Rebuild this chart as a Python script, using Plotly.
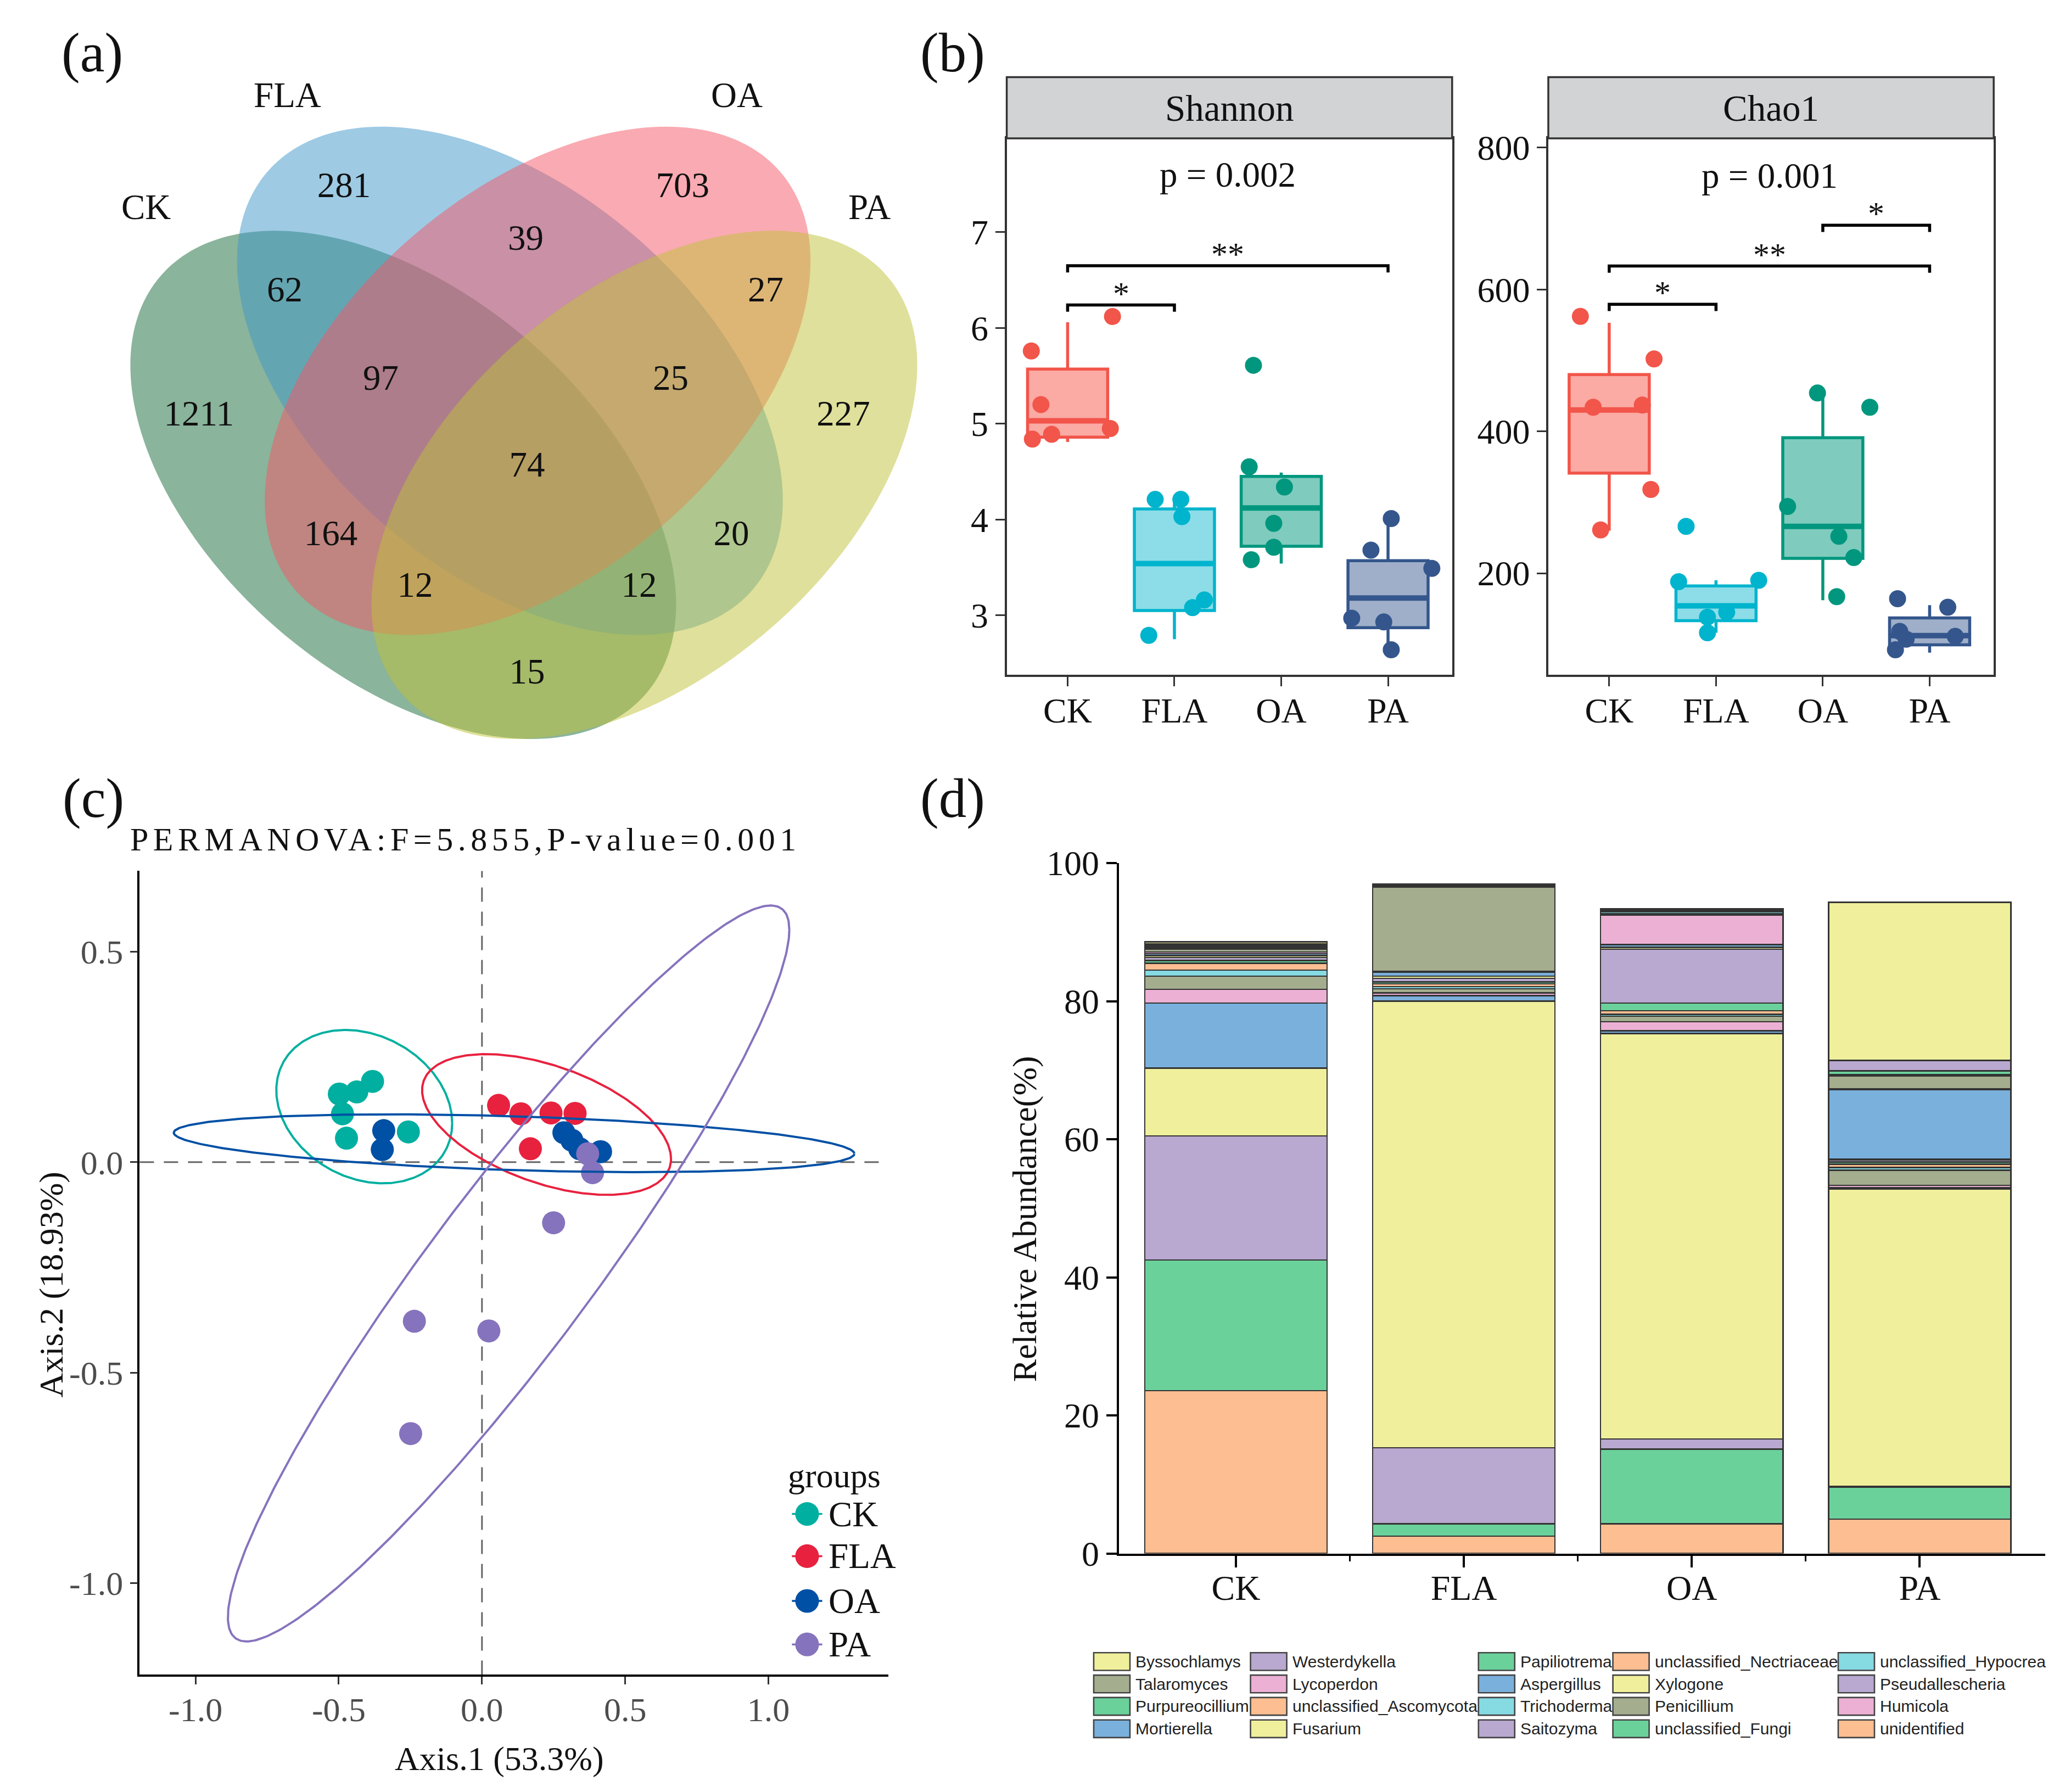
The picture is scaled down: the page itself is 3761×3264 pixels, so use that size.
import numpy as np
import plotly.graph_objects as go

# ---------------- canvas helpers (reference measured in 1567x1360 "display" units) ----------------
W, H = 3761, 3264
DW, DH = 1567.1, 1360.0
S = W / DW
OFF = 8 / S  # page body margin (8px) compensation, in display units


def fs(d):
    return round(d * S)


def xp(d):
    return (d - OFF) / DW


def yp(d):
    return 1 - (d - OFF) / DH


SERIF = "Liberation Serif"
SANS = "Liberation Sans"

groups = ["CK", "FLA", "OA", "PA"]

# ---------------- (a) Venn data ----------------
venn_sets = ["CK", "FLA", "OA", "PA"]
venn_counts = [1211, 281, 703, 227, 62, 39, 27, 97, 25, 74, 164, 20, 12, 12, 15]
venn_colors = ["rgba(21,105,55,0.5)", "rgba(61,149,201,0.5)",
               "rgba(245,85,101,0.5)", "rgba(191,193,55,0.5)"]

# ---------------- (b) alpha diversity ----------------
shannon_vals = [[5.76, 6.12, 5.20, 4.84, 4.89, 4.95],
                [4.21, 4.21, 4.03, 2.79, 3.08, 3.16],
                [5.61, 4.55, 4.34, 3.96, 3.71, 3.58],
                [4.01, 3.68, 3.49, 2.97, 2.93, 2.64]]
shannon_jit = [[-0.34, 0.42, -0.25, -0.33, -0.15, 0.40],
               [-0.18, 0.06, 0.07, -0.24, 0.17, 0.28],
               [-0.26, -0.30, 0.03, -0.07, -0.07, -0.28],
               [0.03, -0.16, 0.41, -0.34, -0.04, 0.03]]
shannon_lo = [4.81, 2.75, 3.54, 2.65]
shannon_q1 = [4.86, 3.05, 3.72, 2.87]
shannon_med = [5.03, 3.54, 4.12, 3.18]
shannon_q3 = [5.57, 4.11, 4.45, 3.57]
shannon_hi = [6.06, 4.21, 4.49, 4.01]
shannon_sig = [(0, 1, 6.24, "*"), (0, 3, 6.65, "**")]
shannon_p = "p = 0.002"

chao_vals = [[562, 502, 434, 437, 318, 261],
             [266, 188, 190, 138, 145, 116],
             [454, 434, 294, 252, 222, 167],
             [164, 152, 118, 111, 92, 107]]
chao_jit = [[-0.27, 0.42, -0.15, 0.31, 0.39, -0.08],
            [-0.28, -0.35, 0.40, -0.08, 0.10, -0.08],
            [-0.05, 0.44, -0.33, 0.15, 0.29, 0.13],
            [-0.30, 0.17, -0.28, 0.24, -0.32, -0.22]]
chao_lo = [260, 116, 162, 88]
chao_q1 = [341, 133, 221, 99]
chao_med = [430, 154, 266, 112]
chao_q3 = [480, 182, 391, 137]
chao_hi = [553, 190, 453, 155]
chao_sig = [(0, 1, 579, "*"), (0, 3, 633, "**"), (2, 3, 690.6, "*")]
chao_p = "p = 0.001"

box_line = ["#F2554A", "#00B4CD", "#00977E", "#34568C"]
box_fill = ["rgba(248,85,74,0.5)", "rgba(0,180,205,0.45)", "rgba(0,151,126,0.5)", "rgba(52,86,140,0.47)"]

# ---------------- (c) PCoA ----------------
pcoa_x = [[-0.498, -0.437, -0.382, -0.487, -0.473, -0.257],
          [0.058, 0.136, 0.241, 0.325, 0.169],
          [-0.343, -0.348, 0.286, 0.314, 0.341, 0.414],
          [0.369, 0.386, 0.250, -0.236, 0.024, -0.249]]
pcoa_y = [[0.162, 0.167, 0.192, 0.115, 0.057, 0.072],
          [0.135, 0.115, 0.117, 0.116, 0.032],
          [0.075, 0.030, 0.070, 0.052, 0.032, 0.025],
          [0.020, -0.025, -0.144, -0.378, -0.401, -0.645]]
# confidence ellipses: centre x, centre y, x radius, y radius, shear
pcoa_ell = [(-0.411, 0.132, 0.307, 0.178, -0.039),
            (0.2255, 0.0895, 0.4345, 0.146, -0.0815),
            (0.112, 0.045, 1.188, 0.064, -0.025),
            (0.093, -0.2645, 0.98, 0.313, 0.8165)]
pcoa_colors = ["#00AFA0", "#E8213F", "#0050A5", "#8673BD"]
pcoa_title = "PERMANOVA:F=5.855,P-value=0.001"
pcoa_xlab = "Axis.1 (53.3%)"
pcoa_ylab = "Axis.2 (18.93%)"

# ---------------- (d) relative abundance (stack order bottom -> top) ----------------
taxa = ["unidentified", "unclassified_Fungi", "Saitozyma", "Fusarium", "Mortierella",
        "Humicola", "Penicillium", "Trichoderma", "unclassified_Ascomycota", "Purpureocillium",
        "Pseudallescheria", "Xylogone", "Aspergillus", "Lycoperdon", "Talaromyces",
        "unclassified_Hypocrea", "unclassified_Nectriaceae", "Papiliotrema", "Westerdykella", "Byssochlamys"]
ab_CK = [23.6, 18.9, 18.0, 9.8, 9.4, 2.0, 1.9, 0.9, 1.0, 0.4,
         0.4, 0.3, 0.3, 0.2, 0.4, 0.2, 0.2, 0.2, 0.2, 0.3]
ab_FLA = [2.5, 1.8, 11.0, 64.7, 0.8, 0.4, 0.6, 0.3, 0.4, 0.3,
          0.5, 0.3, 0.6, 0.1, 12.2, 0.1, 0.1, 0.1, 0.1, 0.1]
ab_OA = [4.3, 10.8, 1.5, 58.7, 0.4, 1.3, 0.8, 0.3, 0.5, 1.1,
         7.8, 0.3, 0.4, 4.3, 0.2, 0.2, 0.2, 0.1, 0.1, 0.1]
ab_PA = [5.0, 4.6, 0.1, 43.1, 0.2, 0.3, 2.2, 0.4, 0.5, 0.3,
         0.3, 0.1, 10.1, 0.1, 1.9, 0.1, 0.1, 0.5, 1.5, 22.9]
pal = {"orange": "#FDBE91", "green": "#6BD19B", "purple": "#B9A8D0", "yellow": "#F0F09C",
       "blue": "#7AB0DC", "pink": "#ECB0D4", "olive": "#A4AD8E", "cyan": "#86DAE2"}
taxa_colors = [pal[c] for c in ["orange", "green", "purple", "yellow", "blue", "pink", "olive", "cyan",
                                 "orange", "green", "purple", "yellow", "blue", "pink", "olive", "cyan",
                                 "orange", "green", "purple", "yellow"]]

fig = go.Figure()
shapes = []
annotations = []


def note(x, y, text, size, family=SERIF, color="#111", xanchor="center", yanchor="middle", xref="paper",
         yref="paper", **kw):
    if xref == "paper":
        x = xp(x)
    if yref == "paper":
        y = yp(y)
    annotations.append(dict(x=x, y=y, xref=xref, yref=yref, text=text, showarrow=False,
                            xanchor=xanchor, yanchor=yanchor,
                            font=dict(family=family, size=size, color=color), **kw))


# ======================= (a) Venn =======================
venn_centres = [(306, 368), (387, 289), (408, 289), (489, 368)]
venn_semi = (243, 145)
venn_tilt = [40.7, 40.7, -40.7, -40.7]
venn_count_pos = [(151, 316), (261, 143), (518, 143), (640, 316), (216, 222), (399, 183), (581, 222),
                  (289, 289), (509, 289), (400, 355), (251, 407), (555, 407), (315, 446), (485, 446),
                  (400, 512)]
venn_set_pos = [(111, 157), (218, 72), (559, 72), (660, 157)]

t = np.linspace(0, 2 * np.pi, 241)
for (cx, cy), th, col in zip(venn_centres, venn_tilt, venn_colors):
    a, b = venn_semi
    r = np.radians(th)
    ex = cx + a * np.cos(r) * np.cos(t) - b * np.sin(r) * np.sin(t)
    ey = cy + a * np.sin(r) * np.cos(t) + b * np.cos(r) * np.sin(t)
    path = "M " + " L ".join(f"{u:.2f},{v:.2f}" for u, v in zip(ex, ey)) + " Z"
    shapes.append(dict(type="path", path=path, xref="x5", yref="y5", fillcolor=col,
                       line=dict(width=0), layer="below"))

fig.add_trace(go.Scatter(x=[p[0] for p in venn_count_pos], y=[p[1] for p in venn_count_pos],
                         text=[str(c) for c in venn_counts], mode="text",
                         textfont=dict(family=SERIF, size=fs(27), color="#111"),
                         xaxis="x5", yaxis="y5", showlegend=False, hoverinfo="skip"))
for name, (ux, uy) in zip(venn_sets, venn_set_pos):
    note(ux, uy, name, fs(27))


# ======================= (b) boxes =======================
def add_alpha(vals, jit, lo, q1, med, q3, hi, sig, drop, pstr, py, xa, ya):
    for k, g in enumerate(groups):
        fig.add_trace(go.Box(x=[k], q1=[q1[k]], median=[med[k]], q3=[q3[k]],
                             lowerfence=[lo[k]], upperfence=[hi[k]], width=0.75,
                             fillcolor=box_fill[k], line=dict(color=box_line[k], width=5.5),
                             whiskerwidth=0, boxpoints=False, xaxis=xa, yaxis=ya,
                             showlegend=False, hoverinfo="skip"))
        fig.add_trace(go.Scatter(x=[k - 0.372, k + 0.372], y=[med[k], med[k]], mode="lines",
                                 line=dict(color=box_line[k], width=10), xaxis=xa, yaxis=ya,
                                 showlegend=False, hoverinfo="skip"))
        fig.add_trace(go.Scatter(x=[k + j for j in jit[k]], y=vals[k], mode="markers",
                                 marker=dict(color=box_line[k], size=31, line=dict(width=0)),
                                 xaxis=xa, yaxis=ya, showlegend=False, hoverinfo="skip"))
    for i, j, hgt, lab in sig:
        fig.add_trace(go.Scatter(x=[i, i, j, j], y=[hgt - drop, hgt, hgt, hgt - drop], mode="lines",
                                 line=dict(color="black", width=5.5), xaxis=xa, yaxis=ya,
                                 showlegend=False, hoverinfo="skip"))
        note((i + j) / 2, hgt, lab, fs(25), xref=xa, yref=ya, yanchor="bottom", yshift=-fs(6))
    note(1.5, py, pstr, fs(27), xref=xa, yref=ya)


add_alpha(shannon_vals, shannon_jit, shannon_lo, shannon_q1, shannon_med, shannon_q3, shannon_hi,
          shannon_sig, 0.07, shannon_p, 7.60, "x", "y")
add_alpha(chao_vals, chao_jit, chao_lo, chao_q1, chao_med, chao_q3, chao_hi,
          chao_sig, 9.5, chao_p, 760, "x2", "y2")

# strips
for (x0, x1), lab in zip([(764, 1102), (1175, 1513)], ["Shannon", "Chao1"]):
    shapes.append(dict(type="rect", xref="paper", yref="paper", x0=xp(x0), x1=xp(x1),
                       y0=yp(105), y1=yp(58.5), fillcolor="#D1D3D4",
                       line=dict(color="#333", width=3.5), layer="above"))
    note((x0 + x1) / 2, 82, lab, fs(28))

# ======================= (c) PCoA =======================
shapes.append(dict(type="line", xref="x3", yref="y3 domain", x0=0, x1=0, y0=0, y1=1,
                   line=dict(color="#666", width=3, dash="26px,18px"), layer="below"))
shapes.append(dict(type="line", xref="x3 domain", yref="y3", x0=0, x1=1, y0=0, y1=0,
                   line=dict(color="#666", width=3, dash="26px,18px"), layer="below"))
for k, g in enumerate(groups):
    fig.add_trace(go.Scatter(x=pcoa_x[k], y=pcoa_y[k], mode="markers",
                             marker=dict(color=pcoa_colors[k], size=42, line=dict(width=0)),
                             xaxis="x3", yaxis="y3", showlegend=False, hoverinfo="skip"))
te = np.linspace(0, 2 * np.pi, 361)
for k, (cx, cy, rx, ry, sh) in enumerate(pcoa_ell):
    fig.add_trace(go.Scatter(x=cx + rx * np.cos(te), y=cy + ry * np.sin(te) + sh * np.cos(te),
                             mode="lines", line=dict(color=pcoa_colors[k], width=4),
                             xaxis="x3", yaxis="y3", showlegend=False, hoverinfo="skip"))

note(98, 637, '<span style="letter-spacing:8.5px">' + pcoa_title + "</span>", fs(25), xanchor="left")
note(379, 1335, pcoa_xlab, fs(26))
note(39, 975, pcoa_ylab, fs(26), textangle=-90)
# legend (groups)
note(597, 1120, "groups", fs(26), xanchor="left")
leg_rows = [1149, 1181, 1215, 1248]
for k, g in enumerate(groups):
    yy = leg_rows[k]
    shapes.append(dict(type="line", xref="x5", yref="y5", x0=601, x1=624, y0=yy, y1=yy,
                       line=dict(color=pcoa_colors[k], width=3.5)))
    shapes.append(dict(type="circle", xref="x5", yref="y5", x0=603.5, x1=621.5, y0=yy - 9, y1=yy + 9,
                       fillcolor=pcoa_colors[k], line=dict(width=0)))
    note(628, yy, g, fs(27), xanchor="left")

# ======================= (d) stacked bars =======================
ab_all = [ab_CK, ab_FLA, ab_OA, ab_PA]
for i, name in enumerate(taxa):
    fig.add_trace(go.Bar(x=[0, 1, 2, 3], y=[ab[i] for ab in ab_all], name=name, width=0.8,
                         marker=dict(color=taxa_colors[i], line=dict(color="#333", width=2.4)),
                         xaxis="x4", yaxis="y4", showlegend=False, hoverinfo="skip"))
note(778, 925, "Relative Abundance(%)", fs(26), textangle=-90)
leg_cols = [830, 949, 1122, 1224, 1395]
leg_rowy = [1261, 1278, 1295, 1312]
legend_order = taxa[::-1]
legend_cols_colors = taxa_colors[::-1]
for k, name in enumerate(legend_order):
    r, c = divmod(k, 5)
    x0 = leg_cols[c]
    yy = leg_rowy[r]
    shapes.append(dict(type="rect", xref="x5", yref="y5", x0=x0, x1=x0 + 27.5, y0=yy - 6.7, y1=yy + 6.7,
                       fillcolor=legend_cols_colors[k], line=dict(color="#444", width=2.6)))
    note(x0 + 31, yy, name, fs(12.4), family=SANS, color="#222", xanchor="left")

# panel labels
for lab, (ux, uy) in zip(["(a)", "(b)", "(c)", "(d)"], [(70, 40), (723, 40), (71, 606), (723, 606)]):
    note(ux, uy, lab, fs(42))

# ======================= axes =======================
tick_font = dict(family=SERIF, size=fs(26.5), color="#111")
gray_font = dict(family=SERIF, size=fs(26), color="#4D4D4D")
box_ax = dict(showline=True, mirror=True, linecolor="#333", linewidth=3.5, showgrid=False, zeroline=False,
              ticks="outside", ticklen=fs(7), tickwidth=3, tickcolor="#333", tickfont=tick_font,
              automargin=False)

layout = dict(
    width=W, height=H, margin=dict(l=0, r=0, t=0, b=0, pad=0), autosize=False,
    paper_bgcolor="white", plot_bgcolor="rgba(0,0,0,0)", barmode="stack", showlegend=False,
    xaxis=dict(domain=[xp(764), xp(1102)], range=[-0.57, 3.6], tickvals=[0, 1, 2, 3], ticktext=groups,
               anchor="y", ticklabelstandoff=-10, **box_ax),
    yaxis=dict(domain=[yp(512), yp(105)], range=[2.38, 7.98], tickvals=[3, 4, 5, 6, 7], anchor="x", **box_ax),
    xaxis2=dict(domain=[xp(1175), xp(1513)], range=[-0.57, 3.6], tickvals=[0, 1, 2, 3], ticktext=groups,
                anchor="y2", ticklabelstandoff=-10, **box_ax),
    yaxis2=dict(domain=[yp(512), yp(105)], range=[57, 813], tickvals=[200, 400, 600, 800], anchor="x2",
                **box_ax),
    xaxis3=dict(domain=[xp(106), xp(674)], range=[-1.195, 1.418], tickvals=[-1, -0.5, 0, 0.5, 1],
                ticktext=["-1.0", "-0.5", "0.0", "0.5", "1.0"], showline=True, linecolor="black", linewidth=3.5,
                showgrid=False, zeroline=False, ticks="outside", ticklen=fs(6), tickwidth=3, tickcolor="#333",
                tickfont=gray_font, anchor="y3", automargin=False, ticklabelstandoff=-8),
    yaxis3=dict(domain=[yp(1271), yp(661)], range=[-1.218, 0.692], tickvals=[-1, -0.5, 0, 0.5],
                ticktext=["-1.0", "-0.5", "0.0", "0.5"], showline=True, linecolor="black", linewidth=3.5,
                showgrid=False, zeroline=False, ticks="outside", ticklen=fs(6), tickwidth=3, tickcolor="#333",
                tickfont=gray_font, anchor="x3", automargin=False),
    xaxis4=dict(domain=[xp(849), xp(1552)], range=[-0.514, 3.55], tickvals=[0, 1, 2, 3], ticktext=groups,
                showline=True, linecolor="black", linewidth=3.5, showgrid=False, zeroline=False,
                ticks="outside", ticklen=fs(9), tickwidth=3.5, tickcolor="black", tickfont=tick_font,
                minor=dict(tickvals=[0.5, 1.5, 2.5], ticks="outside", ticklen=fs(4.5), tickwidth=3,
                           tickcolor="black"),
                anchor="y4", automargin=False, ticklabelstandoff=-18),
    yaxis4=dict(domain=[yp(1179), yp(655)], range=[0, 100], tickvals=[0, 20, 40, 60, 80, 100],
                showline=True, linecolor="black", linewidth=3.5, showgrid=False, zeroline=False,
                ticks="outside", ticklen=fs(8), tickwidth=3.5, tickcolor="black", tickfont=tick_font,
                anchor="x4", automargin=False),
    xaxis5=dict(domain=[0, 1], range=[OFF, DW + OFF], visible=False, anchor="y5", fixedrange=True,
                automargin=False),
    yaxis5=dict(domain=[0, 1], range=[DH + OFF, OFF], visible=False, anchor="x5", fixedrange=True,
                automargin=False),
    shapes=shapes, annotations=annotations,
)
fig.update_layout(**layout)
fig.write_html("out.html")
